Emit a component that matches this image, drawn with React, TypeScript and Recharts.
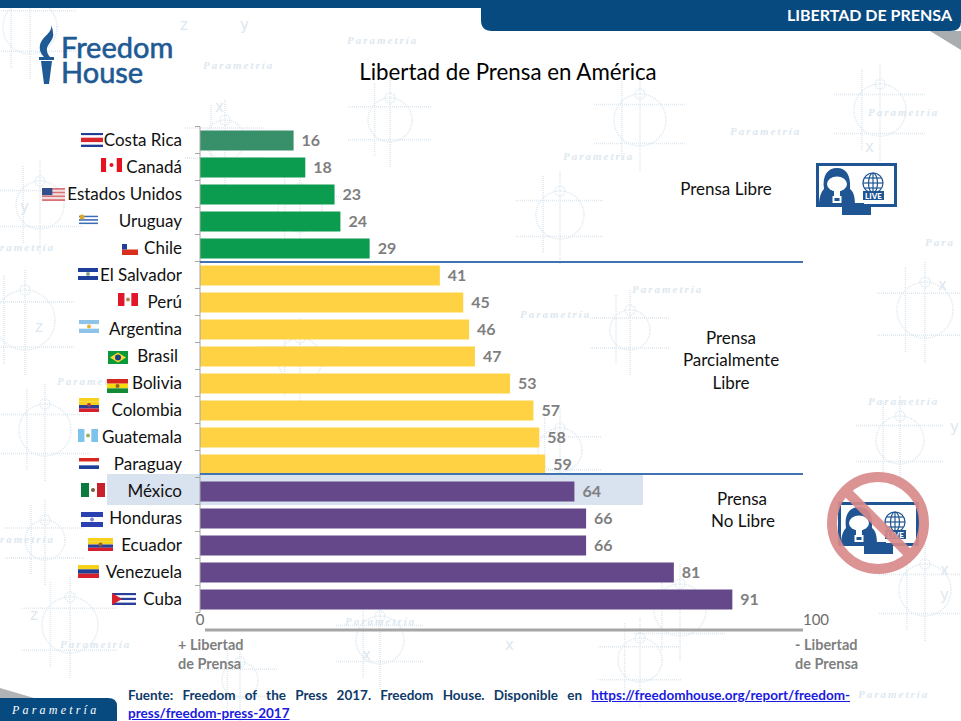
import { BarChart, Bar, XAxis, YAxis, Cell, LabelList } from 'recharts'

const countries = ['Costa Rica', 'Canadá', 'Estados Unidos', 'Uruguay', 'Chile', 'El Salvador', 'Perú', 'Argentina', 'Brasil', 'Bolivia', 'Colombia', 'Guatemala', 'Paraguay', 'México', 'Honduras', 'Ecuador', 'Venezuela', 'Cuba']
const scores = [16, 18, 23, 24, 29, 41, 45, 46, 47, 53, 57, 58, 59, 64, 66, 66, 81, 91]
const status = ['libre', 'libre', 'libre', 'libre', 'libre', 'parcial', 'parcial', 'parcial', 'parcial', 'parcial', 'parcial', 'parcial', 'parcial', 'no', 'no', 'no', 'no', 'no']
const xTicks = [0, 100]

const rows = countries.map((name, i) => ({ name, value: scores[i], status: status[i] }))

const statusColors: Record<string, string> = { libre: '#0b9c50', parcial: '#ffd243', no: '#65488a' }
const FONT = 'Lato, sans-serif'
const WATERMARK = '#dde8f0'

// flag boxes: x, y, w, h in page pixels, dir h = horizontal stripes
const flags: Record<string, { box: number[]; dir: 'h' | 'v'; stripes: string[]; mark?: string }> = {
  'Costa Rica': { box: [81, 133, 22, 14], dir: 'h', stripes: ['#1f3f94', '#fff', '#d8262c', '#d8262c', '#fff', '#1f3f94'] },
  'Canadá': { box: [101, 158, 21, 14], dir: 'v', stripes: ['#e8121f', '#fff', '#fff', '#e8121f'], mark: '#e8121f' },
  'Estados Unidos': { box: [42, 188, 23, 13], dir: 'h', stripes: ['#d9737a', '#f3dede', '#d9737a', '#f3dede', '#d9737a', '#f3dede', '#d9737a'] },
  'Uruguay': { box: [79, 214, 19, 12], dir: 'h', stripes: ['#fff', '#3c6cb8', '#fff', '#3c6cb8', '#fff', '#3c6cb8', '#fff'], mark: '#d8a92a' },
  'Chile': { box: [122, 244, 16, 11], dir: 'h', stripes: ['#fff', '#d8301f'] },
  'El Salvador': { box: [78, 268, 20, 12], dir: 'h', stripes: ['#1f3f9c', '#fff', '#1f3f9c'], mark: '#8aa08a' },
  'Perú': { box: [118, 293, 20, 13], dir: 'v', stripes: ['#e0162b', '#fff', '#e0162b'], mark: '#b08a50' },
  'Argentina': { box: [79, 320, 20, 13], dir: 'h', stripes: ['#8fc4ea', '#fff', '#8fc4ea'], mark: '#e8b030' },
  'Brasil': { box: [108, 351, 20, 13], dir: 'h', stripes: ['#0a9a3c'], mark: '#ffd92c' },
  'Bolivia': { box: [107, 379, 21, 14], dir: 'h', stripes: ['#d8261e', '#f6d90f', '#128a36'], mark: '#8a6a2a' },
  'Colombia': { box: [79, 398, 20, 14], dir: 'h', stripes: ['#f6d21a', '#f6d21a', '#2a3f98', '#d8202c'], mark: '#b04040' },
  'Guatemala': { box: [78, 429, 20, 13], dir: 'v', stripes: ['#7cc4ec', '#fff', '#7cc4ec'], mark: '#a0b060' },
  'Paraguay': { box: [79, 458, 20, 11], dir: 'h', stripes: ['#d8261e', '#fff', '#1f3f9c'] },
  'México': { box: [81, 483, 24, 14], dir: 'v', stripes: ['#0a7a3e', '#fff', '#c8202c'], mark: '#7a5a3a' },
  'Honduras': { box: [81, 512, 22, 15], dir: 'h', stripes: ['#2a3fb0', '#fff', '#2a3fb0'], mark: '#7a8ad0' },
  'Ecuador': { box: [88, 538, 25, 13], dir: 'h', stripes: ['#f6d21a', '#f6d21a', '#2a3f98', '#d8202c'], mark: '#8a6a30' },
  'Venezuela': { box: [78, 565, 21, 13], dir: 'h', stripes: ['#f6d21a', '#1f3f94', '#d8202c'] },
  'Cuba': { box: [112, 593, 24, 12], dir: 'h', stripes: ['#2a3f9c', '#fff', '#2a3f9c', '#fff', '#2a3f9c'] },
}

const labelRight: Record<string, number> = { Brasil: 178 }

function Flag({ name }: { name: string }) {
  const f = flags[name]
  const [x, y, w, h] = f.box
  const n = f.stripes.length
  return (
    <g>
      {f.stripes.map((c, i) =>
        f.dir === 'h' ? (
          <rect key={i} x={x} y={y + (i * h) / n} width={w} height={h / n} fill={c} />
        ) : (
          <rect key={i} x={x + (i * w) / n} y={y} width={w / n} height={h} fill={c} />
        )
      )}
      {name === 'Estados Unidos' && <rect x={x} y={y} width={w * 0.45} height={h * 0.55} fill="#34508c" />}
      {name === 'Chile' && <rect x={x} y={y} width={5} height={5.5} fill="#1f3f9c" />}
      {name === 'Cuba' && <polygon points={`${x},${y} ${x + 10},${y + h / 2} ${x},${y + h}`} fill="#d8202c" />}
      {name === 'Uruguay' && <circle cx={x + 3} cy={y + 3} r={2.5} fill={f.mark} />}
      {name === 'Brasil' && <polygon points={`${x + 2},${y + h / 2} ${x + w / 2},${y + 1.5} ${x + w - 2},${y + h / 2} ${x + w / 2},${y + h - 1.5}`} fill={f.mark} />}
      {name === 'Brasil' && <circle cx={x + w / 2} cy={y + h / 2} r={3} fill="#1f3f8c" />}
      {f.mark && name !== 'Uruguay' && name !== 'Brasil' && <circle cx={x + w / 2} cy={y + h / 2} r={2} fill={f.mark} />}
    </g>
  )
}

function CountryTick({ y, payload, index }: any) {
  const name = payload.value
  return (
    <g>
      <line x1={195} x2={200} y1={y - 13.5} y2={y - 13.5} stroke="#a6a6a6" />
      {index === countries.length - 1 && <line x1={195} x2={200} y1={y + 13.5} y2={y + 13.5} stroke="#a6a6a6" />}
      <Flag name={name} />
      <text x={labelRight[name] ?? 182} y={y} dy={6} textAnchor="end" fontFamily={FONT} fontSize={17} fill="#111">
        {name}
      </text>
    </g>
  )
}

function ScaleTick({ x, y, payload }: any) {
  return (
    <text x={payload.value === 100 ? x + 31 : x} y={y + 4} textAnchor="middle" fontFamily={FONT} fontSize={15} fill="#6d6d6d">
      {payload.value}
    </text>
  )
}

// watermark behind everything
const motifs = [
  [30, 27, 27], [225, 140, 20], [390, 120, 22], [640, 120, 26], [880, 110, 26], [40, 205, 24], [300, 210, 22], [560, 215, 24],
  [925, 310, 28], [25, 320, 30], [630, 330, 20], [300, 360, 22], [45, 430, 26], [900, 440, 24], [560, 450, 22], [925, 590, 26],
  [70, 625, 28], [380, 640, 24], [640, 660, 22], [680, 610, 26], [45, 540, 20], [240, 680, 18],
]
const stamps: [string, number, number][] = [
  ['Parametría', 347, 44], ['Parametría', 203, 69], ['Parametría', 868, 116], ['Parametría', 563, 160], ['rametría', 0, 251],
  ['Parametría', 632, 293], ['Para', 925, 246], ['Parametría', 57, 385], ['Parametría', 520, 318], ['Parametría', 868, 405],
  ['rametría', 0, 543], ['Parametría', 345, 625], ['Parametría', 60, 648], ['Parametría', 858, 698], ['Parametría', 730, 135],
]
const glyphs = [
  ['x', 215, 112], ['y', 240, 30], ['z', 180, 30], ['y', 20, 212], ['z', 35, 332], ['x', 938, 290], ['y', 940, 600], ['z', 30, 620],
  ['x', 505, 650], ['x', 362, 660], ['y', 950, 432], ['x', 940, 575], ['x', 865, 152],
]

function Backdrop() {
  return (
    <svg width={961} height={721} style={{ position: 'absolute', left: 0, top: 0 }}>
      {motifs.map(([x, y, r], i) => (
        <g key={i} fill="none" stroke={WATERMARK} strokeWidth={1.5} strokeDasharray="1 1">
          <circle cx={x} cy={y} r={r} />
          <circle cx={x} cy={y - r} r={5} />
          <line x1={x - r - 20} x2={x + r + 20} y1={y - r * 0.6} y2={y - r * 0.6} />
          <line x1={x - r - 20} x2={x + r + 20} y1={y + r * 0.9} y2={y + r * 0.9} />
          <line x1={x} x2={x} y1={y - r - 20} y2={y + r + 25} />
          <line x1={x - r * 0.7} x2={x - r * 0.7} y1={y - r - 15} y2={y + r + 15} />
        </g>
      ))}
      {stamps.map(([t, x, y], i) => (
        <text key={i} x={x} y={y} fontFamily="Liberation Serif" fontStyle="italic" fontWeight={700} fontSize={11} letterSpacing={2} fill={WATERMARK}>
          {t}
        </text>
      ))}
      {glyphs.map(([g, x, y], i) => (
        <text key={i} x={x as number} y={y as number} fontFamily="DejaVu Sans" fontSize={15} fill={WATERMARK}>
          {g}
        </text>
      ))}
    </svg>
  )
}

function Chrome() {
  return (
    <svg width={961} height={721} style={{ position: 'absolute', left: 0, top: 0 }}>
      <rect x={0} y={0} width={961} height={8} fill="#074a80" />
      <polygon points="930,31 961,31 961,50" fill="#a9adb0" />
      <path d="M481 0 H961 V22 Q961 31 950 31 H492 Q481 31 481 20 Z" fill="#074a80" />
      <text x={952} y={21} textAnchor="end" fontFamily={FONT} fontWeight={700} fontSize={16} fill="#fff">
        LIBERTAD DE PRENSA
      </text>

      {/* logo */}
      <path d="M51 25 C53 33 42 36 40 45 C39 50 41 54 44 57 L50 57 C46 52 46 48 49 44 C52 40 54 36 53 33 C53 30 52 27 51 25 Z" fill="#1f5a94" />
      <rect x={39} y={57} width={15} height={3} fill="#1f5a94" />
      <polygon points="41,61 52,61 49,84 44,84" fill="#1f5a94" />
      <g fontFamily={FONT} fontSize={29} fill="#1f5a94" stroke="#1f5a94" strokeWidth={0.6}>
        <text x={61} y={58}>Freedom</text>
        <text x={61} y={83}>House</text>
      </g>

      <text x={508} y={80} textAnchor="middle" fontFamily={FONT} fontSize={22.3} fill="#000">
        Libertad de Prensa en América
      </text>

      {/* footer tab */}
      <polygon points="0,698 0,688 34,698" fill="#b0b4b6" />
      <path d="M0 698 H108 Q117 698 117 706 V721 H0 Z" fill="#074a80" />
      <text x={12} y={714} fontFamily="Liberation Serif" fontStyle="italic" fontSize={12} letterSpacing={3.2} fill="#fff">
        Parametría
      </text>
    </svg>
  )
}

function Screen({ x, y }: { x: number; y: number }) {
  const c = '#1e5592'
  return (
    <g transform={`translate(${x} ${y})`}>
      <rect x={1.5} y={1.5} width={78} height={41} fill="#fff" stroke={c} strokeWidth={3} />
      <rect x={26} y={44} width={29} height={8} fill={c} />
      <rect x={33} y={40} width={15} height={5} fill={c} />
      <path d="M8 26 C6 12 12 5 21 5 C30 5 35 12 34 26 C38 29 39 35 39 42 H3 C3 35 5 29 8 26 Z" fill={c} />
      <ellipse cx={21} cy={21} rx={10} ry={7.5} fill="#fff" />
      <rect x={18} y={27} width={6} height={6} fill="#fff" />
      <rect x={16.5} y={33} width={9} height={7} fill="#fff" />
      <rect x={18.5} y={35} width={5} height={3} fill={c} />
      <g fill="none" stroke={c} strokeWidth={1.2}>
        <circle cx={57} cy={20} r={10} />
        <ellipse cx={57} cy={20} rx={4.5} ry={10} />
        <line x1={47} x2={67} y1={20} y2={20} />
        <line x1={48.5} x2={65.5} y1={15} y2={15} />
        <line x1={48.5} x2={65.5} y1={25} y2={25} />
        <line x1={57} x2={57} y1={10} y2={30} />
      </g>
      <rect x={47} y={28} width={21} height={9} fill={c} />
      <text x={57.5} y={35.5} textAnchor="middle" fontFamily={FONT} fontWeight={900} fontSize={8} fill="#fff">LIVE</text>
    </g>
  )
}

function Overlay() {
  return (
    <svg width={961} height={721} style={{ position: 'absolute', left: 0, top: 0 }}>
      <line x1={200} x2={803} y1={262} y2={262} stroke="#3f74b0" strokeWidth={2} />
      <line x1={200} x2={803} y1={474} y2={474} stroke="#3f74b0" strokeWidth={2} />
      <line x1={205} x2={803} y1={630} y2={630} stroke="#a6a6a6" strokeWidth={3} />

      <g fontFamily={FONT} fontSize={17} fill="#111" textAnchor="middle">
        <text x={726} y={195}>Prensa Libre</text>
        <text x={731} y={344}>Prensa</text>
        <text x={731} y={366}>Parcialmente</text>
        <text x={731} y={389}>Libre</text>
        <text x={742} y={505}>Prensa</text>
        <text x={743} y={527}>No Libre</text>
      </g>

      <g fontFamily={FONT} fontWeight={700} fontSize={14.5} fill="#7f7f7f">
        <text x={178} y={650}>+ Libertad</text>
        <text x={178} y={669}>de Prensa</text>
        <text x={795} y={650}>- Libertad</text>
        <text x={795} y={669}>de Prensa</text>
      </g>

      <Screen x={816} y={163} />
      <Screen x={838} y={502} />
      <g fill="none" stroke="#d98a8a" strokeWidth={10} opacity={0.92}>
        <circle cx={878} cy={523} r={46} />
        <line x1={846} x2={910} y1={491} y2={555} />
      </g>
    </svg>
  )
}

export default function App() {
  return (
    <div style={{ position: 'absolute', left: 0, top: 0, width: 961, height: 721, background: '#fff', overflow: 'hidden' }}>
      <Backdrop />
      <Chrome />
      <div style={{ position: 'absolute', left: 107, top: 474, width: 536, height: 31, background: '#d9e2ef' }} />
      <div style={{ position: 'absolute', left: 0, top: 0 }}>
        <BarChart width={961} height={721} data={rows} layout="vertical" margin={{ top: 126.5, right: 176, bottom: 78.5, left: 0 }} barCategoryGap={3.5}>
          <XAxis type="number" domain={[0, 100]} ticks={xTicks} height={30} axisLine={false} tickLine={false} tick={<ScaleTick />} />
          <YAxis type="category" dataKey="name" width={200} interval={0} tickLine={false} axisLine={{ stroke: '#a6a6a6' }} tick={<CountryTick />} />
          <Bar dataKey="value" barSize={20} isAnimationActive={false}>
            {rows.map((r, i) => (
              <Cell key={r.name} fill={i === 0 ? '#38906a' : statusColors[r.status]} />
            ))}
            <LabelList dataKey="value" position="right" offset={8} fontFamily={FONT} fontWeight={700} fontSize={16} fill="#7f7f7f" />
          </Bar>
        </BarChart>
      </div>
      <Overlay />
      <div style={{ position: 'absolute', left: 128, top: 686, width: 722, fontFamily: FONT, fontWeight: 700, fontSize: 13.5, lineHeight: '18px', color: '#0e3a68', textAlign: 'justify' }}>
        Fuente: Freedom of the Press 2017. Freedom House. Disponible en{' '}
        <a href="#" style={{ color: '#1a1ae0' }}>https://freedomhouse.org/report/freedom-press/freedom-press-2017</a>
      </div>
    </div>
  )
}
